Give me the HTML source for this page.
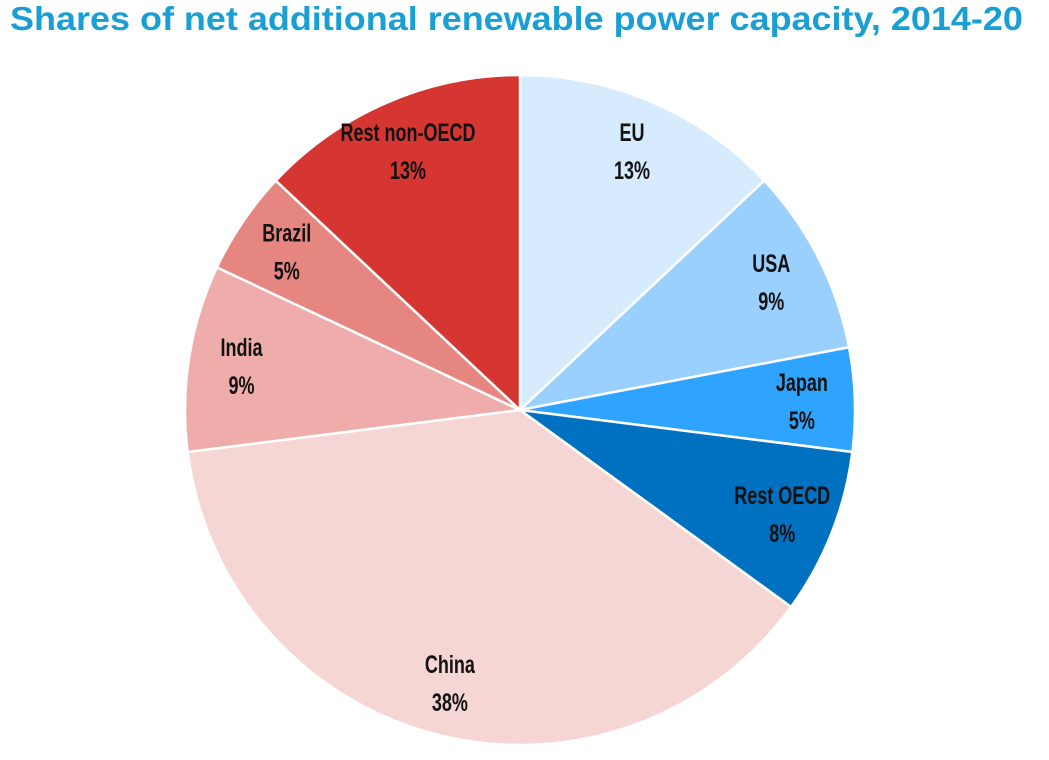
<!DOCTYPE html>
<html><head><meta charset="utf-8">
<style>
html,body{margin:0;padding:0;background:#fff;}
body{width:1049px;height:760px;overflow:hidden;position:relative;font-family:"Liberation Sans",sans-serif;}
#title{position:absolute;left:10px;top:0px;font-size:33px;font-weight:bold;color:#1a9fd4;white-space:nowrap;transform-origin:0 0;transform:scaleX(1.09);}
svg{position:absolute;left:0;top:0;}
</style></head><body>
<div id="title">Shares of net additional renewable power capacity, 2014-20</div>
<svg id="chart" width="1049" height="760"></svg>
<script>
const categories=["EU","USA","Japan","Rest OECD","China","India","Brazil","Rest non-OECD"];
const shares=[13,9,5,8,38,9,5,13];
const colors=["#d6ebfd","#99d0fd","#2ea3ff","#0070c0","#f5d6d5","#eeadaa","#e68681","#d63632"];
const cx=520,cy=410,R=335,LR=282;
const svg=document.getElementById('chart');
const NS="http://www.w3.org/2000/svg";
const total=shares.reduce((a,b)=>a+b,0);
function pt(a,r){return [cx+r*Math.sin(a),cy-r*Math.cos(a)];}
let acc=0;
shares.forEach((v,i)=>{
  const a0=acc/total*2*Math.PI; acc+=v; const a1=acc/total*2*Math.PI;
  const [x0,y0]=pt(a0,R),[x1,y1]=pt(a1,R);
  const p=document.createElementNS(NS,'path');
  p.setAttribute('d',`M${cx},${cy}L${x0},${y0}A${R},${R} 0 ${a1-a0>Math.PI?1:0} 1 ${x1},${y1}Z`);
  p.setAttribute('fill',colors[i]);p.setAttribute('stroke','#fff');p.setAttribute('stroke-width','2.5');
  
  
  svg.appendChild(p);
  const [lx,ly]=pt((a0+a1)/2,LR);
  const t=document.createElementNS(NS,'text');
  
  
  t.setAttribute('text-anchor','middle');t.setAttribute('font-size','25');t.setAttribute('font-weight','bold');
  t.setAttribute('fill','#111');
  t.setAttribute('transform',`translate(${lx},${ly}) scale(0.72,1)`);
  const s1=document.createElementNS(NS,'tspan');s1.setAttribute('x','0');s1.setAttribute('y','-10');s1.textContent=categories[i];
  const s2=document.createElementNS(NS,'tspan');s2.setAttribute('x','0');s2.setAttribute('y','28');s2.textContent=v+'%';
  t.appendChild(s1);t.appendChild(s2);svg.appendChild(t);
});
</script>
</body></html>
